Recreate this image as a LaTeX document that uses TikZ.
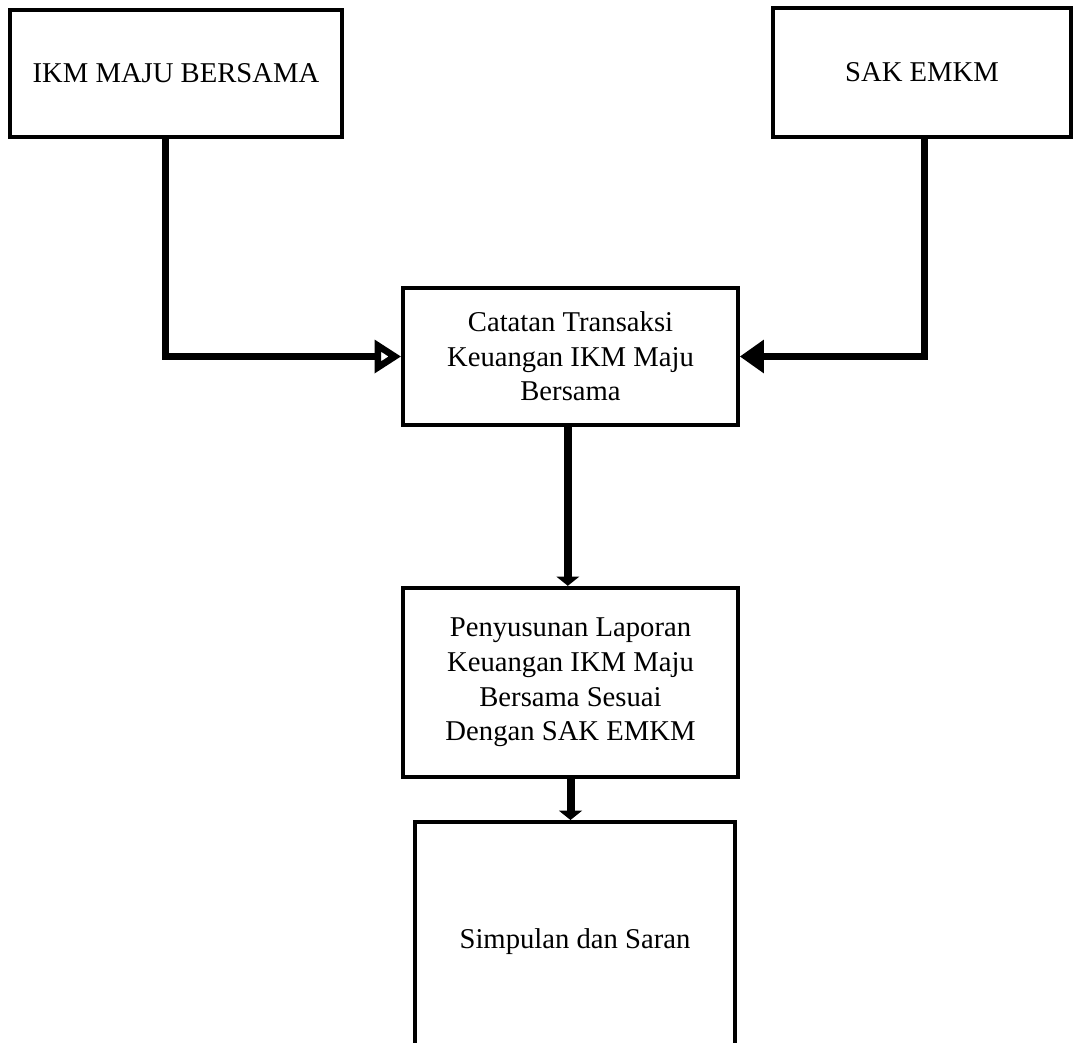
\documentclass[tikz,border=0pt]{standalone}
\usepackage{fontspec}
\setmainfont{Liberation Serif}
\usepackage{tikz}
\usetikzlibrary{arrows.meta,calc,positioning}

\begin{document}
\begin{tikzpicture}[x=0.75pt,y=-0.75pt]

\tikzset{box/.style={draw=black, line width=3pt, fill=white, align=center, inner sep=4pt,
  font=\fontsize{21.5}{26}\selectfont},
%side links and the main flow
sidelink/.style={line width=5pt},
flowlink/.style={line width=6pt, -{Triangle[length=7pt,width=17pt]}}}

\useasboundingbox (0,0) rectangle (1074,1042);

\node[box, minimum width=249pt, minimum height=95pt] (ikm) at (176,73.5) {IKM MAJU BERSAMA};
\node[box, minimum width=223pt, minimum height=97pt] (sak) at (922,72.5) {SAK EMKM};

\node[box, minimum width=251pt, minimum height=103pt] (catatan) at (570.5,356.5)
  {Catatan Transaksi\\Keuangan IKM Maju\\Bersama};
\node[box, minimum width=251pt, minimum height=142pt] (susun) at (570.5,682.5)
  {Penyusunan Laporan\\Keuangan IKM Maju\\Bersama Sesuai\\Dengan SAK EMKM};
\node[box, minimum width=240pt, minimum height=180pt] (simpulan) at (575,942)
  {Simpulan dan Saran};

%now the links into the middle box
\draw[sidelink, -{Triangle[open,length=20pt,width=24pt]}]
  ([xshift=-8pt]ikm.south) |- (catatan.west);
\draw[sidelink, -{Triangle[length=18pt,width=24pt]}]
  ([xshift=2pt]sak.south) |- (catatan.east);

\draw[flowlink] ([xshift=-2pt]catatan.south) -- ([xshift=-2pt]catatan.south |- susun.north);
\draw[flowlink] (susun.south) -- (susun.south |- simpulan.north);

\end{tikzpicture}
\end{document}
